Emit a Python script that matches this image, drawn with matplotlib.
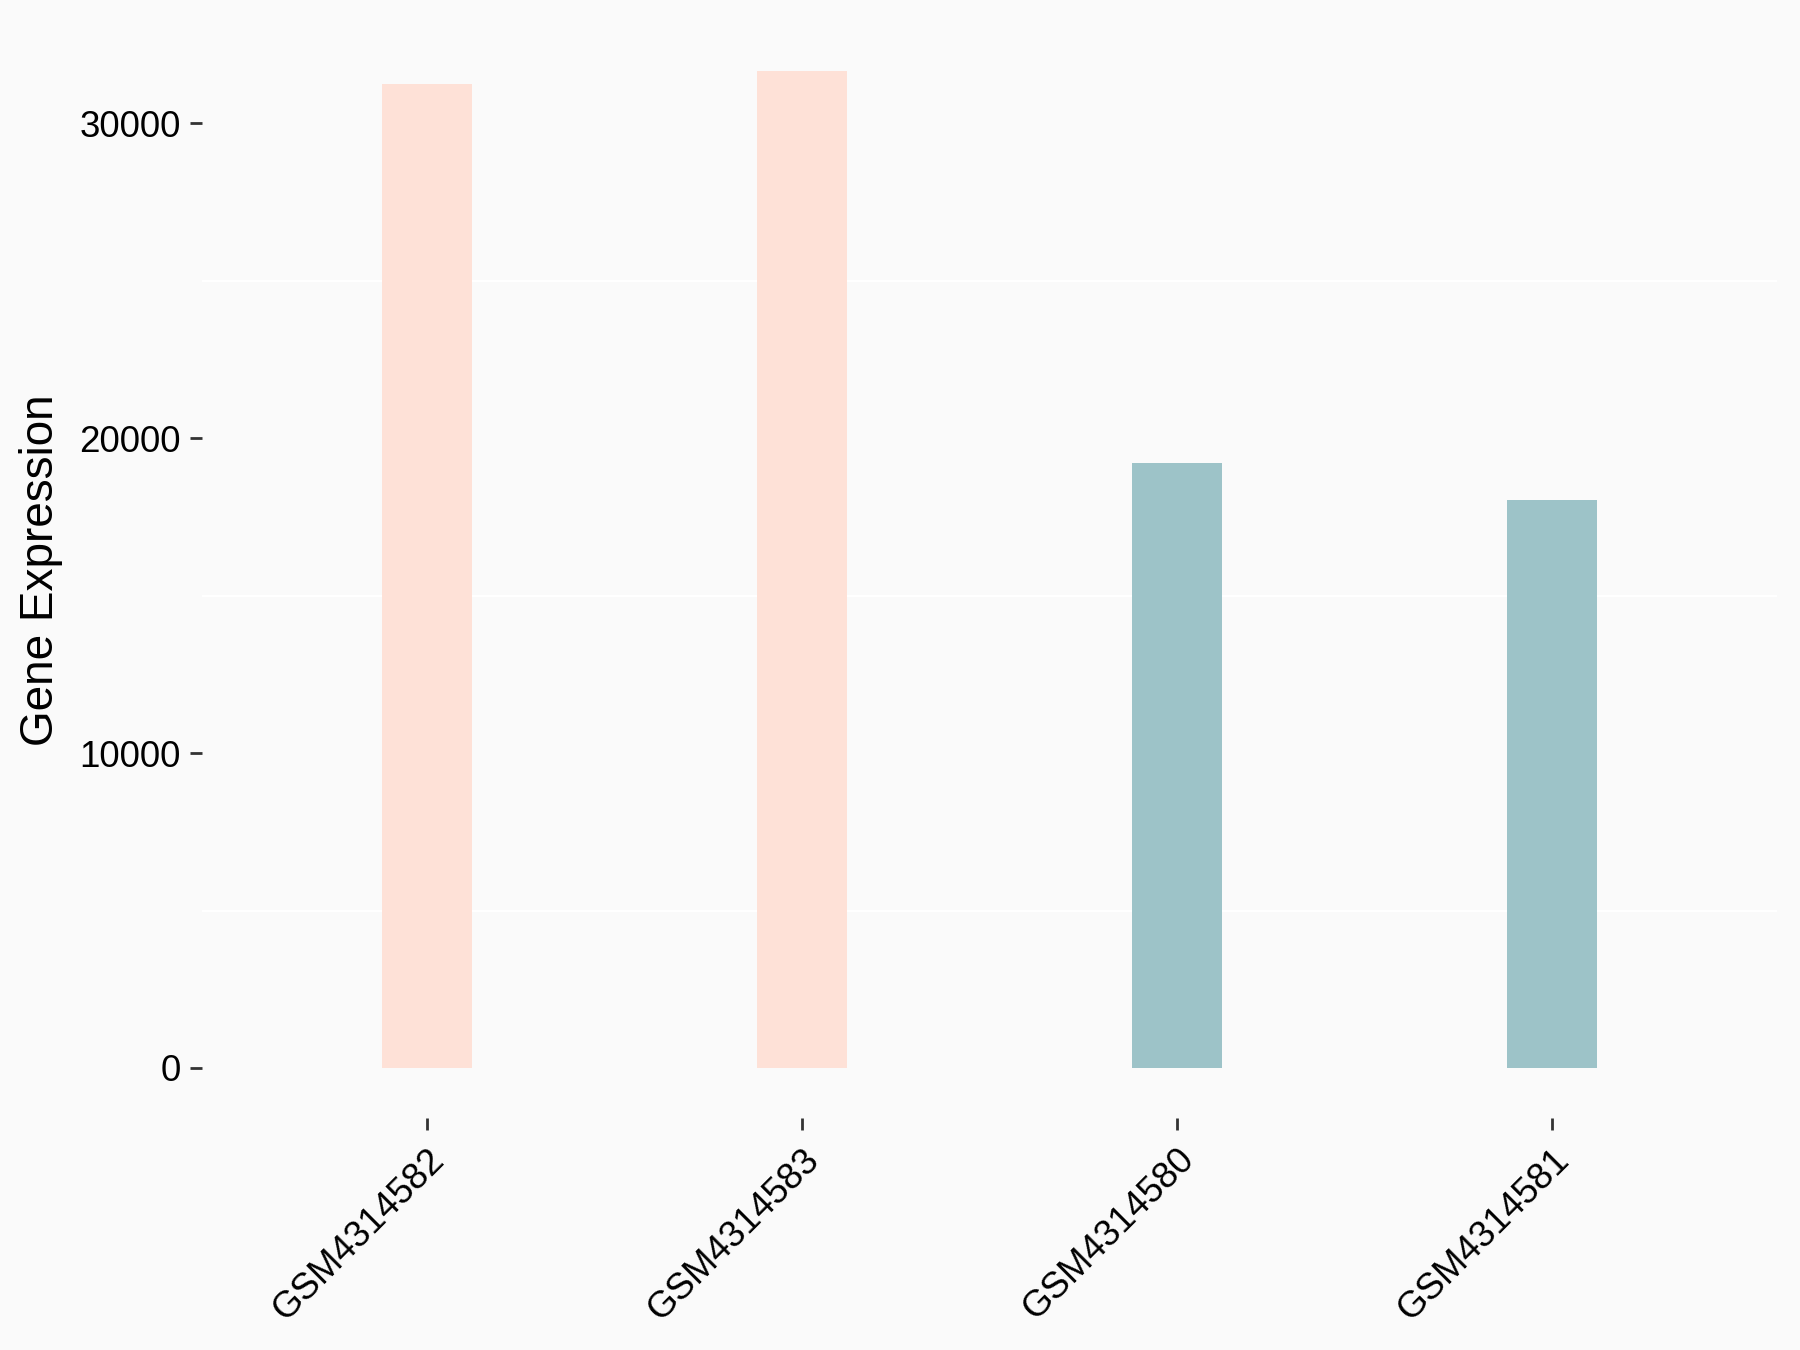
import matplotlib
matplotlib.use("Agg")
import matplotlib.pyplot as plt

samples = ["GSM4314582", "GSM4314583", "GSM4314580", "GSM4314581"]
expression = [31250, 31650, 19200, 18040]
groups = ["A", "A", "B", "B"]
group_colors = {"A": "#FEE1D7", "B": "#9DC3C8"}
y_ticks = [0, 10000, 20000, 30000]
minor_grid = [5000, 15000, 25000]

plt.rcParams['font.family'] = ['Liberation Sans', 'DejaVu Sans']
bg = "#FAFAFA"
fig = plt.figure(figsize=(18, 13.5), dpi=100, facecolor=bg)
ax = fig.add_axes([0.112, 0.172, 0.875, 0.812], facecolor=bg)

x = list(range(1, len(samples) + 1))
for yv in minor_grid:
    ax.axhline(yv, color="white", lw=1.6, zorder=0)
ax.bar(x, expression, width=0.24, color=[group_colors[g] for g in groups], zorder=2)

ymax = max(expression)
ax.set_ylim(-0.05 * ymax, 1.05 * ymax)
ax.set_xlim(0.4, len(samples) + 0.6)
ax.set_yticks(y_ticks)
ax.set_yticklabels([str(v) for v in y_ticks])
ax.set_xticks(x)
ax.set_xticklabels(samples, rotation=45, ha='right', va='top', rotation_mode='anchor')

for s in ax.spines.values():
    s.set_visible(False)
ax.tick_params(axis='both', length=8.5, width=2, color="#333333", labelsize=26.5, labelcolor="black")
ax.tick_params(axis='y', pad=6.5)
ax.tick_params(axis='x', pad=9)
ax.set_ylabel("Gene Expression", fontsize=33, labelpad=12)

fig.savefig("out.png", dpi=100, facecolor=bg)
